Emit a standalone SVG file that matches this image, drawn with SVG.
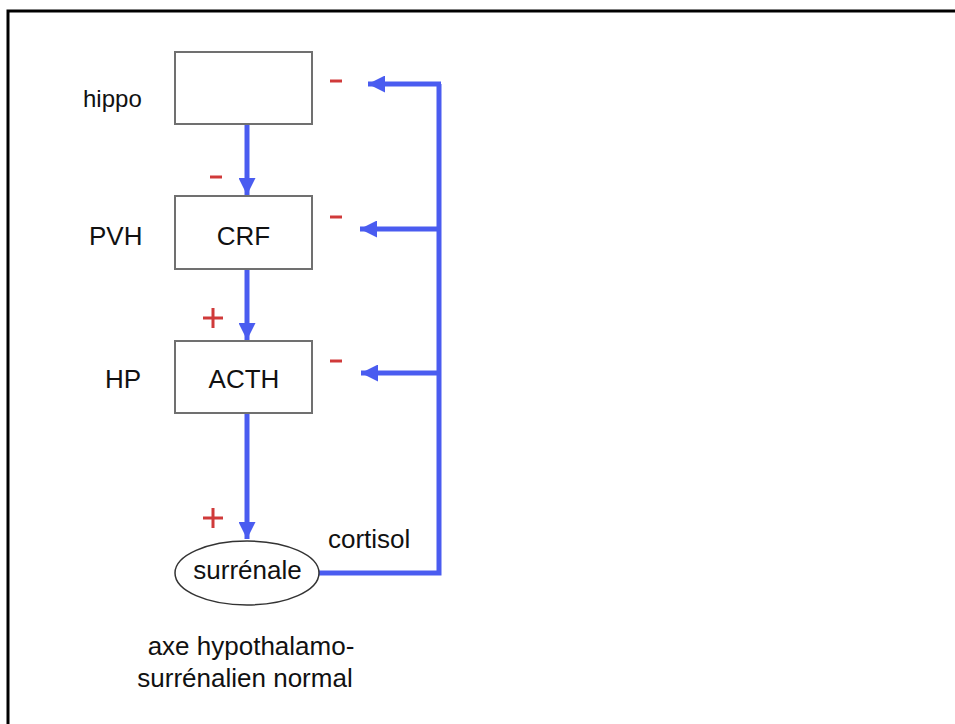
<svg xmlns="http://www.w3.org/2000/svg" width="955" height="724" viewBox="0 0 955 724">
<defs>
<style>
.box{fill:#fff;stroke:#707070;stroke-width:2}
.t{font-family:"Liberation Sans",Arial,sans-serif;font-size:26px;fill:#111}
.c{stroke:#4a5cf0;stroke-width:5;fill:none}
.sign{stroke:#d03a3a;stroke-width:3;fill:none}
</style>
<marker id="ah" viewBox="0 0 10 10" refX="10" refY="5" markerWidth="3.4" markerHeight="3.4" markerUnits="strokeWidth" orient="auto">
<path d="M0,0 L10,5 L0,10 z" fill="#4a5cf0"/>
</marker>
</defs>
<rect width="955" height="724" fill="#fff"/>
<path d="M8,724 V11 H955" fill="none" stroke="#000" stroke-width="3"/>

<g id="connectors">
<line class="c" x1="247" y1="124" x2="247" y2="195" marker-end="url(#ah)"/>
<line class="c" x1="247" y1="269" x2="247" y2="340" marker-end="url(#ah)"/>
<line class="c" x1="247" y1="413" x2="247" y2="539" marker-end="url(#ah)"/>
<path class="c" d="M319,573 H439 V84"/>
<line class="c" x1="441" y1="84" x2="368" y2="84" marker-end="url(#ah)"/>
<line class="c" x1="439" y1="229" x2="360" y2="229" marker-end="url(#ah)"/>
<line class="c" x1="439" y1="373" x2="361" y2="373" marker-end="url(#ah)"/>
</g>

<g id="hippo">
<rect class="box" x="175" y="52" width="137" height="72"/>
<text class="t" x="83" y="107" style="font-size:24px">hippo</text>
</g>
<g id="pvh">
<rect class="box" x="175" y="196" width="137" height="73"/>
<text class="t" x="89" y="245">PVH</text>
<text class="t" x="243.5" y="245" text-anchor="middle">CRF</text>
</g>
<g id="hp">
<rect class="box" x="175" y="341" width="137" height="72"/>
<text class="t" x="105" y="388">HP</text>
<text class="t" x="244" y="388" text-anchor="middle">ACTH</text>
</g>
<g id="surrenale">
<ellipse cx="247" cy="573" rx="72" ry="32" fill="#fff" stroke="#333" stroke-width="1.5"/>
<text class="t" x="247.5" y="579" text-anchor="middle">surrénale</text>
</g>
<g id="labels">
<text class="t" x="328" y="548">cortisol</text>
<text class="t" x="251" y="655" text-anchor="middle">axe hypothalamo-</text>
<text class="t" x="245" y="687" text-anchor="middle">surrénalien normal</text>
</g>
<g id="signs">
<line class="sign" x1="330" y1="81" x2="342" y2="81"/>
<line class="sign" x1="330" y1="217" x2="342" y2="217"/>
<line class="sign" x1="330" y1="361" x2="342" y2="361"/>
<line class="sign" x1="210" y1="177" x2="222" y2="177"/>
<path class="sign" d="M203,318 H223 M213,308 V328"/>
<path class="sign" d="M203,518 H223 M213,508 V528"/>
</g>
</svg>
